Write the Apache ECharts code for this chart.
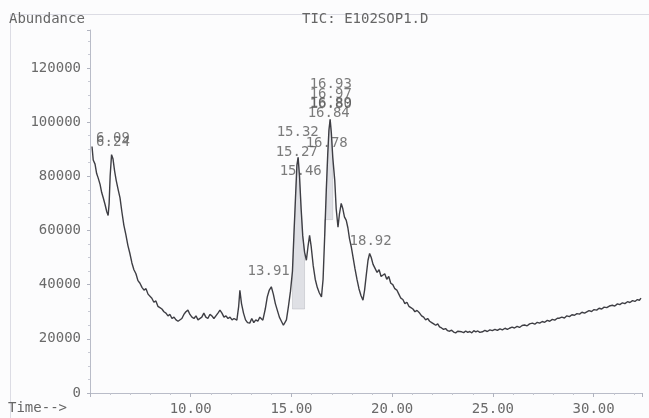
<!DOCTYPE html>
<html>
<head>
<meta charset="utf-8">
<script src="https://cdn.jsdelivr.net/npm/echarts@6/dist/echarts.min.js"></script>
<style>
  html, body { margin: 0; padding: 0; background: #fcfcfd; }
  #main { width: 649px; height: 418px; }
</style>
</head>
<body>
<div id="main"></div>
<script>
// retention time (min)
const times = [
  5.10, 5.16, 5.25, 5.33, 5.40, 5.50, 5.58, 5.66, 5.75, 5.83, 5.90, 5.95, 6.00, 6.07, 6.14, 6.22, 6.30, 6.40, 6.49, 6.58,
  6.68, 6.78, 6.88, 6.98, 7.08, 7.18, 7.28, 7.38, 7.48, 7.58, 7.68, 7.78, 7.88, 7.97, 8.07, 8.17, 8.27, 8.37, 8.47, 8.57,
  8.67, 8.77, 8.87, 8.97, 9.07, 9.17, 9.27, 9.37, 9.46, 9.56, 9.66, 9.76, 9.86, 9.96, 10.06, 10.16, 10.26, 10.36, 10.45, 10.55,
  10.65, 10.75, 10.85, 10.95, 11.05, 11.15, 11.25, 11.35, 11.45, 11.55, 11.65, 11.75, 11.85, 11.95, 12.05, 12.15, 12.29, 12.38, 12.44, 12.52,
  12.62, 12.72, 12.82, 12.93, 13.03, 13.13, 13.23, 13.33, 13.43, 13.58, 13.70, 13.80, 13.90, 14.00, 14.10, 14.20, 14.30, 14.40, 14.50, 14.60,
  14.67, 14.75, 14.85, 14.95, 15.05, 15.12, 15.20, 15.27, 15.33, 15.40, 15.48, 15.56, 15.65, 15.74, 15.82, 15.90, 15.98, 16.08, 16.18, 16.28,
  16.38, 16.49, 16.57, 16.65, 16.73, 16.80, 16.86, 16.92, 16.98, 17.05, 17.15, 17.22, 17.31, 17.38, 17.47, 17.55, 17.63, 17.72, 17.80, 17.88,
  17.97, 18.06, 18.15, 18.25, 18.35, 18.45, 18.55, 18.63, 18.72, 18.80, 18.88, 18.96, 19.05, 19.15, 19.25, 19.35, 19.45, 19.53, 19.63, 19.73,
  19.83, 19.93, 20.03, 20.13, 20.23, 20.33, 20.43, 20.53, 20.63, 20.73, 20.83, 20.93, 21.03, 21.13, 21.23, 21.36, 21.46, 21.56, 21.66, 21.76,
  21.86, 21.96, 22.06, 22.16, 22.26, 22.35, 22.45, 22.55, 22.65, 22.75, 22.85, 22.95, 23.05, 23.15, 23.25, 23.34, 23.45, 23.55, 23.65, 23.75,
  23.85, 23.95, 24.05, 24.15, 24.25, 24.35, 24.48, 24.60, 24.72, 24.85, 24.97, 25.10, 25.22, 25.35, 25.47, 25.60, 25.72, 25.82, 25.95, 26.07,
  26.20, 26.32, 26.45, 26.57, 26.70, 26.82, 26.96, 27.08, 27.20, 27.32, 27.45, 27.57, 27.70, 27.82, 27.95, 28.07, 28.20, 28.30, 28.42, 28.55,
  28.67, 28.80, 28.92, 29.05, 29.17, 29.30, 29.42, 29.55, 29.64, 29.77, 29.90, 30.02, 30.15, 30.27, 30.40, 30.52, 30.65, 30.78, 30.93, 31.05,
  31.18, 31.30, 31.43, 31.55, 31.68, 31.80, 31.93, 32.05, 32.17, 32.27, 32.35
];

// total ion current abundance
const abundance = [
  91000, 86000, 84500, 81000, 79500, 77000, 74000, 72000, 69500, 67000, 65500, 70000, 80000, 88000, 86500, 82000, 78500, 75000, 72000, 67000,
  62000, 58500, 54500, 51500, 48000, 45500, 44000, 41500, 40500, 39000, 38000, 38500, 36500, 36800, 35000, 33500, 34000, 32000, 31500, 31000,
  30000, 29500, 28500, 29000, 27500, 28000, 27000, 26500, 25800, 27500, 29000, 30000, 30600, 29000, 28000, 27500, 28500, 27000, 26900, 28000,
  29500, 28000, 27500, 29000, 28500, 27500, 28500, 29500, 30600, 29500, 28000, 28500, 27500, 28000, 27000, 27500, 26900, 32000, 37900, 33000,
  29500, 27000, 26000, 25800, 27500, 26000, 27000, 26500, 28000, 26900, 31000, 35500, 38000, 39200, 36500, 33000, 30500, 28000, 26500, 25000,
  24300, 27000, 32000, 37500, 45000, 58000, 72000, 84000, 87000, 80000, 68000, 58000, 52000, 49000, 54000, 58200, 54000, 47000, 42000, 39000,
  37000, 35500, 42000, 58000, 75000, 88000, 97000, 101000, 96000, 87000, 78400, 68000, 61200, 66000, 70000, 68000, 65000, 63700, 61000, 57000,
  53900, 50000, 46000, 42000, 38500, 36000, 34250, 38000, 44000, 49000, 51500, 50000, 47500, 46000, 44500, 45500, 43000, 42800, 44000, 42000,
  43000, 40500, 40000, 38500, 38000, 36500, 35000, 34500, 33000, 33500, 32000, 31500, 31000, 30000, 30500, 29500, 28500, 28000, 27000, 27500,
  26500, 26000, 25500, 25000, 25500, 24400, 24000, 23500, 23800, 23000, 22800, 23200, 22500, 22200, 22800, 22100, 22600, 22300, 22900, 22400,
  22700, 22200, 23000, 22600, 22900, 22400, 22600, 23100, 22700, 23300, 23000, 23500, 23100, 23700, 23300, 23900, 23500, 23900, 24300, 24000,
  24600, 24200, 24900, 25100, 24800, 25500, 25800, 25400, 26100, 25800, 26400, 26100, 26800, 26500, 27200, 26900, 27600, 27600, 28000, 27700,
  28500, 28200, 28900, 28700, 29300, 29100, 29800, 29500, 30000, 30400, 30100, 30800, 30600, 31300, 31000, 31700, 31500, 32100, 32400, 32100,
  32900, 32600, 33300, 33000, 33700, 33400, 34100, 33800, 34500, 34250, 35000
];

// peak annotations: text, anchor time, anchor height
const peakNames = ['6.09', '6.24', '13.91', '15.32', '15.27', '15.46', '16.93', '16.97', '16.89', '16.80', '16.84', '16.78', '18.92'];
const peakTimes = [6.14, 6.14, 13.87, 15.31, 15.26, 15.46, 16.95, 16.95, 16.95, 16.95, 16.85, 16.75, 18.93];
const peakHeights = [93900, 92400, 44900, 96100, 88800, 81800, 113800, 110100, 106800, 106400, 103300, 92100, 56000];

// integrated regions: start time, end time, baseline abundance
const integStart = [15.05, 16.65];
const integEnd = [15.65, 17.05];
const integBase = [31000, 64000];

const mono = 'DejaVu Sans Mono';

let chart = echarts.init(document.getElementById('main'));

// trace points inside each integration window
function integPoints(k) {
  let pts = [];
  times.forEach((t, i) => {
    if (t >= integStart[k] && t <= integEnd[k]) pts.push([t, abundance[i]]);
  });
  return pts;
}

let option = {
  backgroundColor: '#fcfcfd',
  animation: false,
  grid: {
    left: 90,
    right: 7,
    top: 30,
    bottom: 25
  },
  graphic: [
    {
      type: 'rect',
      shape: { x: 10.5, y: 14.5, width: 660, height: 420 },
      style: { fill: 'none', stroke: '#dcdce4', lineWidth: 1 }
    },
    {
      type: 'text',
      left: 9,
      top: 12,
      style: { text: 'Abundance', font: '14px ' + mono, fill: '#666' }
    },
    {
      type: 'text',
      left: 302,
      top: 12,
      style: { text: 'TIC: E102SOP1.D', font: '14px ' + mono, fill: '#666' }
    },
    {
      type: 'text',
      left: 8,
      top: 401,
      style: { text: 'Time-->', font: '14px ' + mono, fill: '#666' }
    }
  ],
  xAxis: {
    type: 'value',
    min: 5,
    max: 32.4,
    interval: 5,
    axisLine: { lineStyle: { color: '#b9bcc8', width: 1 } },
    axisTick: { show: true, length: 4, lineStyle: { color: '#b0b3bf' } },
    minorTick: { show: true, splitNumber: 5, length: 2, lineStyle: { color: '#c4c6d0' } },
    splitLine: { show: false },
    axisLabel: {
      margin: 9,
      fontFamily: mono,
      fontSize: 14,
      color: '#6a6a6a',
      showMinLabel: false,
      showMaxLabel: false,
      formatter: function (v) {
        return (v >= 10 && v % 5 === 0) ? v.toFixed(2) : '';
      }
    }
  },
  yAxis: {
    type: 'value',
    min: 0,
    max: 134000,
    interval: 20000,
    axisLine: { show: true, lineStyle: { color: '#b9bcc8', width: 1 } },
    axisTick: { show: true, length: 3, lineStyle: { color: '#b0b3bf' } },
    minorTick: { show: true, splitNumber: 4, length: 2, lineStyle: { color: '#c8cad4' } },
    splitLine: { show: false },
    axisLabel: {
      margin: 9,
      fontFamily: mono,
      fontSize: 14,
      color: '#6a6a6a',
      showMaxLabel: false,
      formatter: function (v) {
        return v % 20000 === 0 ? String(v) : '';
      }
    }
  },
  series: [
    {
      name: 'integration',
      type: 'custom',
      data: integStart.map((s, k) => [s, integEnd[k], integBase[k], k]),
      renderItem: function (params, api) {
        let k = api.value(3);
        let pts = integPoints(k).map(p => api.coord(p));
        pts.push(api.coord([integEnd[k], integBase[k]]));
        pts.push(api.coord([integStart[k], integBase[k]]));
        return {
          type: 'polygon',
          shape: { points: pts },
          style: { fill: 'rgba(170,172,182,0.35)', stroke: 'rgba(150,152,162,0.5)', lineWidth: 0.6 }
        };
      },
      z: 2
    },
    {
      name: 'TIC',
      type: 'line',
      data: times.map((t, i) => [t, abundance[i]]),
      showSymbol: false,
      symbol: 'none',
      lineStyle: { color: '#3e3e44', width: 1.4 },
      z: 3
    },
    {
      name: 'peaks',
      type: 'scatter',
      symbolSize: 0,
      data: peakNames.map((n, i) => ({ name: n, value: [peakTimes[i], peakHeights[i]] })),
      label: {
        show: true,
        position: 'inside',
        formatter: '{b}',
        fontFamily: mono,
        fontSize: 14,
        color: '#5a5a5a'
      },
      z: 4
    }
  ]
};

chart.setOption(option);
</script>
</body>
</html>
